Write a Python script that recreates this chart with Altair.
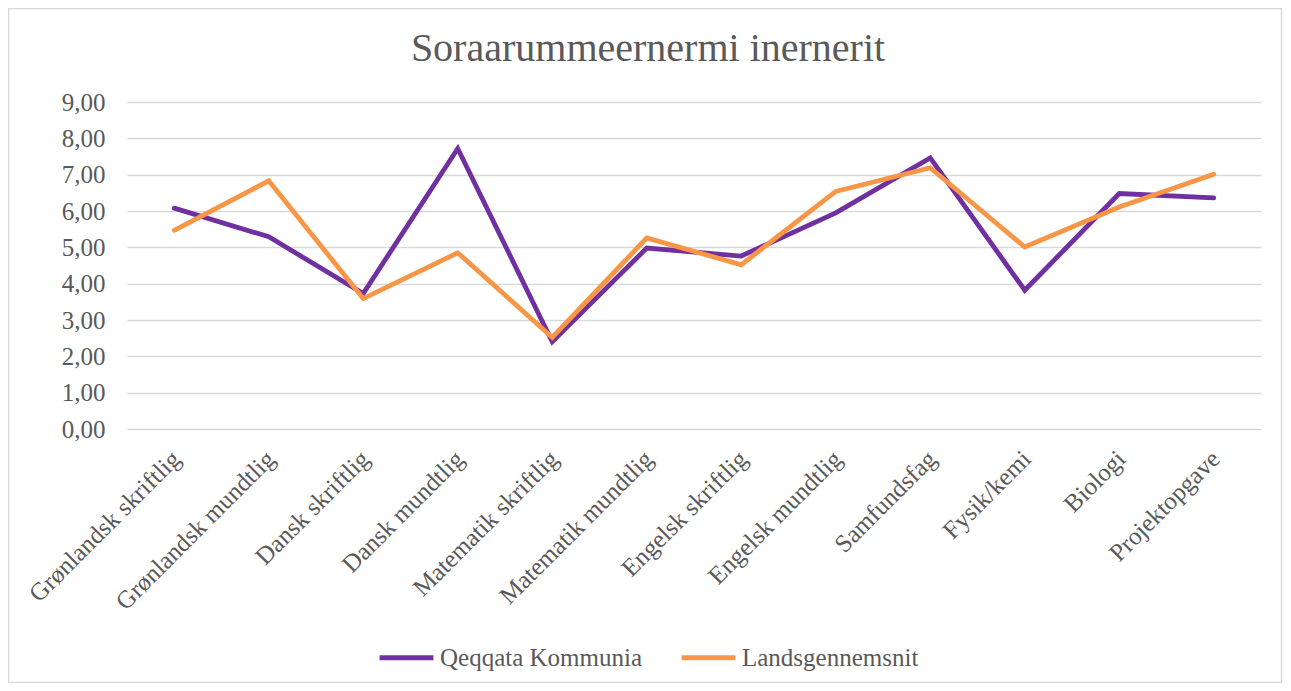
import altair as alt
import pandas as pd

title_text = "Soraarummeernermi inernerit"
categories = [
    "Grønlandsk skriftlig", "Grønlandsk mundtlig", "Dansk skriftlig", "Dansk mundtlig",
    "Matematik skriftlig", "Matematik mundtlig", "Engelsk skriftlig", "Engelsk mundtlig",
    "Samfundsfag", "Fysik/kemi", "Biologi", "Projektopgave",
]
qeqqata = [6.08, 5.29, 3.73, 7.72, 2.40, 4.98, 4.76, 5.95, 7.46, 3.82, 6.48, 6.36]
lands = [5.47, 6.83, 3.59, 4.85, 2.52, 5.26, 4.52, 6.54, 7.19, 5.01, 6.11, 7.01]
series_names = ["Qeqqata Kommunia", "Landsgennemsnit"]
series_colors = ["#7030A0", "#F79646"]
y_ticks = [0, 1, 2, 3, 4, 5, 6, 7, 8, 9]

rows = []
for i, c in enumerate(categories):
    rows.append({"fag": c, "serie": series_names[0], "v": qeqqata[i], "o": 0})
    rows.append({"fag": c, "serie": series_names[1], "v": lands[i], "o": 1})
df = pd.DataFrame(rows)

FONT = "Liberation Serif"
GRAY = "#595959"
W, H = 1134, 327

lines = alt.Chart(df).mark_line(strokeWidth=4.8, strokeCap="round").encode(
    x=alt.X("fag:N", sort=categories, title=None,
            scale=alt.Scale(paddingInner=0, paddingOuter=0.5),
            axis=alt.Axis(labelAngle=-45, labelFontSize=25, labelFont=FONT,
                          labelColor=GRAY, ticks=False, domain=False,
                          labelPadding=17, labelOffset=-7, labelLimit=400)),
    y=alt.Y("v:Q", title=None,
            scale=alt.Scale(domain=[0, 9], nice=False),
            axis=alt.Axis(values=y_ticks, labelFontSize=25, labelFont=FONT,
                          labelColor=GRAY, ticks=False, domain=False,
                          labelPadding=22, gridColor="#D9D9D9", gridWidth=1.5,
                          labelExpr="replace(format(datum.value, '.2f'), '.', ',')")),
    color=alt.Color("serie:N", sort=series_names, title=None,
                    scale=alt.Scale(domain=series_names, range=series_colors),
                    legend=alt.Legend(orient="none", legendX=250, legendY=526,
                                      direction="horizontal", symbolType="stroke",
                                      symbolStrokeWidth=5, symbolSize=2900,
                                      labelFontSize=25, labelFont=FONT,
                                      labelColor=GRAY, columnPadding=28,
                                      labelOffset=4, labelLimit=400)),
    order="o:Q",
)

border = alt.Chart(pd.DataFrame({"a": [0]})).mark_rect(
    fill=None, stroke="#D9D9D9", strokeWidth=1.5
).encode(
    x=alt.value(-118.5), x2=alt.value(W + 20.5),
    y=alt.value(-93.5), y2=alt.value(H + 253.5),
)

title = alt.Chart(pd.DataFrame({"t": [title_text]})).mark_text(
    font=FONT, fontSize=40, color=GRAY, align="center", baseline="alphabetic"
).encode(text="t:N", x=alt.value(521), y=alt.value(-41))

chart = alt.layer(border, title, lines).properties(
    width=W, height=H,
    autosize=alt.AutoSizeParams(type="none"),
    padding={"left": 119, "top": 94, "right": 22, "bottom": 254},
).configure_view(stroke=None)

chart.save("out.html", embed_options={"renderer": "svg", "actions": False})
